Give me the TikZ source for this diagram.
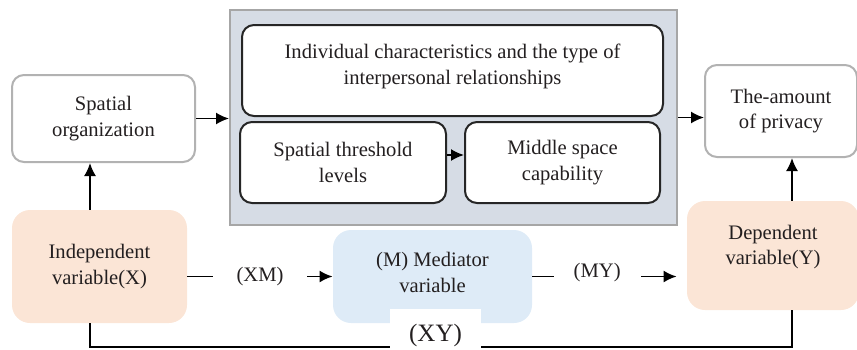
\documentclass[tikz,border=0pt]{standalone}
\usepackage{fontspec}
\setmainfont{Liberation Serif}
\usetikzlibrary{arrows.meta}

\definecolor{texte}{HTML}{231F20}
\definecolor{peche}{HTML}{FBE5D6}
\definecolor{bleuclair}{HTML}{DEEBF7}
\definecolor{cadregris}{HTML}{D6DCE5}

\tikzset{
  boite/.style={draw=gray!60, line width=1pt, rounded corners=6pt, align=center, fill=white},
  boitenoire/.style={draw=black!85, line width=1pt, rounded corners=6pt, align=center, fill=white},
  boitevar/.style={rounded corners=9pt, align=center},
  fleche/.style={line width=0.9pt, -{Latex[length=6.5pt,width=6pt]}},
}

\begin{document}
\begin{tikzpicture}[x=0.5pt, y=-0.5pt, font=\fontsize{10.3}{12.8}\selectfont, text=texte]

\useasboundingbox (0,0) rectangle (857,349);

% Boîtes du haut
\node[boite, minimum width=91.5pt, minimum height=43.5pt] (org) at (103.5,118.5) {Spatial\\organization};
\node[draw=gray!70, fill=cadregris, line width=1pt, minimum width=223.5pt, minimum height=107.5pt] (cadre) at (453.5,117.5) {};
\node[boitenoire, minimum width=210.5pt, minimum height=45.5pt, text depth=6.3pt] (indiv) at (452.5,70.5) {Individual characteristics and the type of\\interpersonal relationships};
\node[boitenoire, minimum width=103pt, minimum height=40.5pt] (seuil) at (343,162.5) {Spatial threshold\\levels};
\node[boitenoire, minimum width=97.5pt, minimum height=40.5pt] (milieu) at (562.5,162.5) {Middle space\\capability};
\node[boite, minimum width=76pt, minimum height=46pt] (intimite) at (781,111) {The-amount\\of privacy};

% Variables
\node[boitevar, fill=peche, minimum width=87.5pt, minimum height=56.5pt] (indep) at (99.5,266.5) {Independent\\variable(X)};
\node[boitevar, fill=bleuclair, minimum width=99.5pt, minimum height=46.5pt, text depth=4pt] (med) at (432.5,276.5) {(M) Mediator\\variable};
\node[boitevar, fill=peche, minimum width=86pt, minimum height=54.5pt, text depth=10.6pt] (dep) at (773,255.5) {Dependent\\variable(Y)};

% Points pour les lignes verticales
\coordinate (xx) at (90,0);
\coordinate (yy) at (792,0);
\coordinate (bas) at (435,347);

% Flèches du haut
\draw[fleche] (org.east) -- (org.east -| cadre.west);
\draw[fleche] (cadre.east) -- (cadre.east -| intimite.west);
\draw[fleche] ([yshift=3.75pt]seuil.east) -- ([yshift=3.75pt]seuil.east -| milieu.west);
\draw[fleche] (indep.north -| xx) -- (org.south -| xx);
\draw[fleche] (dep.north -| yy) -- (intimite.south -| yy);

% Chemins XM et MY
\draw[fleche] (indep.east |- med) -- node[fill=white, inner xsep=12pt] (xm) {(XM)} (med.west);
\draw[fleche, shorten >=5pt] (med.east) -- node[pos=0.42, fill=white, inner xsep=10pt, yshift=2pt] (my) {(MY)} (med.east -| dep.west);

% Chemin direct XY
\draw[line width=0.9pt] (indep.south -| xx) |- (bas) -| (dep.south -| yy);
\node[fill=white, font=\fontsize{12.5}{14}\selectfont, minimum width=45.5pt, minimum height=26pt] (xy) at (435.5,335) {(XY)};

\end{tikzpicture}
\end{document}
